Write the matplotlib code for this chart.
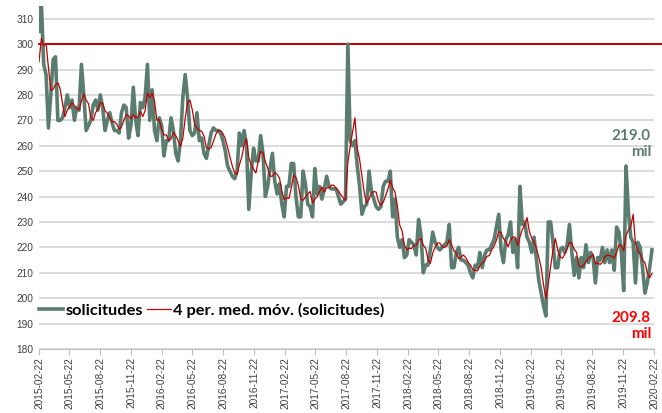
import matplotlib
matplotlib.use("Agg")
import matplotlib.pyplot as plt
import matplotlib.dates as mdates
import pandas as pd

# weekly claims (thousands)
prev_weeks = [279, 304, 284]  # only used to seed the 4-week average
solicitudes = [
    305, 316, 292, 288, 267, 280, 294, 295, 270, 270,
    271, 275, 280, 275, 278, 270, 275, 274, 292, 280,
    266, 268, 270, 276, 278, 274, 280, 275, 266, 270,
    273, 269, 266, 266, 265, 273, 276, 275, 263, 268,
    283, 270, 264, 277,
    275, 279, 292, 270, 282, 266, 262, 271, 268, 256,
    262, 262, 271, 266, 257, 254, 262, 279, 288, 279,
    266, 264, 265, 273, 262, 263, 257, 255, 260, 265,
    267, 266, 266, 265, 262, 258, 252, 250, 248, 247,
    250, 265, 260,
    266, 260, 235, 249, 259, 254, 254, 264, 257, 240,
    244, 251, 257, 246, 241, 245, 237, 232, 244, 244,
    253, 253, 240, 232, 232, 250, 245, 237, 236, 232,
    251, 241, 244, 239, 243, 248, 244, 243, 243, 243,
    240, 237, 238,
    239, 300, 262, 260, 262, 252, 244, 233, 236, 237,
    250, 242, 239, 236, 235, 236, 244, 246, 246, 250,
    232, 239, 224, 220, 223, 216, 217, 223, 222, 221,
    217, 231, 225, 210, 213, 213, 219, 226, 222, 220,
    219, 220, 221,
    222, 229, 212, 212, 218, 220, 215, 215, 214, 213,
    210, 208, 213, 212, 218, 212, 217, 219, 219, 221,
    223, 228, 233, 219, 214, 223, 225, 230, 218, 223,
    212, 244, 229, 230, 224, 222, 218, 224, 215, 207,
    202, 197, 193,
    230, 230, 222, 212, 212, 219, 220, 218, 221, 229,
    218, 209, 216, 208, 216, 212, 221, 214, 218, 216,
    206, 216, 215, 220, 214, 219, 214, 219, 211, 228,
    226, 218, 203, 252, 234, 224, 222, 206, 222, 220,
    212, 202, 206, 212, 219,
]
first_week = "2015-02-22"
axis_start = "2015-02-22"
axis_end = "2020-02-22"
reference_level = 300
last_value_label = "219.0\nmil"
last_avg_label = "209.8\nmil"

green = "#5b7d70"
red = "#c00000"

dates = pd.date_range(first_week, periods=len(solicitudes), freq="7D")
media = pd.Series(prev_weeks + solicitudes).rolling(4).mean().iloc[len(prev_weeks):].values
tick_dates = pd.date_range(axis_start, axis_end, freq=pd.DateOffset(months=3))

fig = plt.figure(figsize=(6.62, 4.13), dpi=100)
ax = fig.add_axes([39 / 662, 1 - 349 / 413, 615 / 662, 343 / 413])

ax.plot(dates, solicitudes, color=green, lw=2.6, solid_joinstyle="round",
        label="solicitudes", zorder=3)
ax.plot(dates, media, color=red, lw=0.9, label="4 per. med. móv. (solicitudes)", zorder=4)
ax.axhline(reference_level, xmin=0, xmax=1.015, color=red, lw=1.4, clip_on=False, zorder=2)

ax.set_xlim(pd.Timestamp(axis_start), pd.Timestamp(axis_end))
ax.set_ylim(180, 315)
ax.set_yticks(range(180, 311, 10))
ax.yaxis.grid(True, color="#d9d9d9", lw=1.3)
ax.set_axisbelow(True)

ax.set_xticks(tick_dates)
ax.xaxis.set_major_formatter(mdates.DateFormatter("%Y-%m-%d"))
ax.tick_params(axis="x", length=4, color="#bfbfbf", labelsize=7.3, labelcolor="#404040",
               rotation=90, pad=2)
ax.tick_params(axis="y", length=0, labelsize=7.3, labelcolor="#404040", pad=4)
for lab in ax.get_xticklabels() + ax.get_yticklabels():
    lab.set_family("Liberation Sans")

for side in ["top", "right", "left"]:
    ax.spines[side].set_visible(False)
ax.spines["bottom"].set_color("#bfbfbf")

ax.legend(loc="center left", bbox_to_anchor=(0.0, 0.112), ncol=2, frameon=False,
          prop=dict(family="Lato", weight="bold", size=11.8), handlelength=1.45,
          handletextpad=0.15, columnspacing=0.25, borderpad=0, borderaxespad=0)

fig.text(651 / 662, 1 - 144 / 413, last_value_label, color=green, ha="right", va="center",
         family="Lato", weight="bold", size=11, linespacing=1.2)
fig.text(651 / 662, 1 - 326 / 413, last_avg_label, color="#ff0000", ha="right", va="center",
         family="Lato", weight="bold", size=11, linespacing=1.2)

fig.savefig("out.png", dpi=100)
